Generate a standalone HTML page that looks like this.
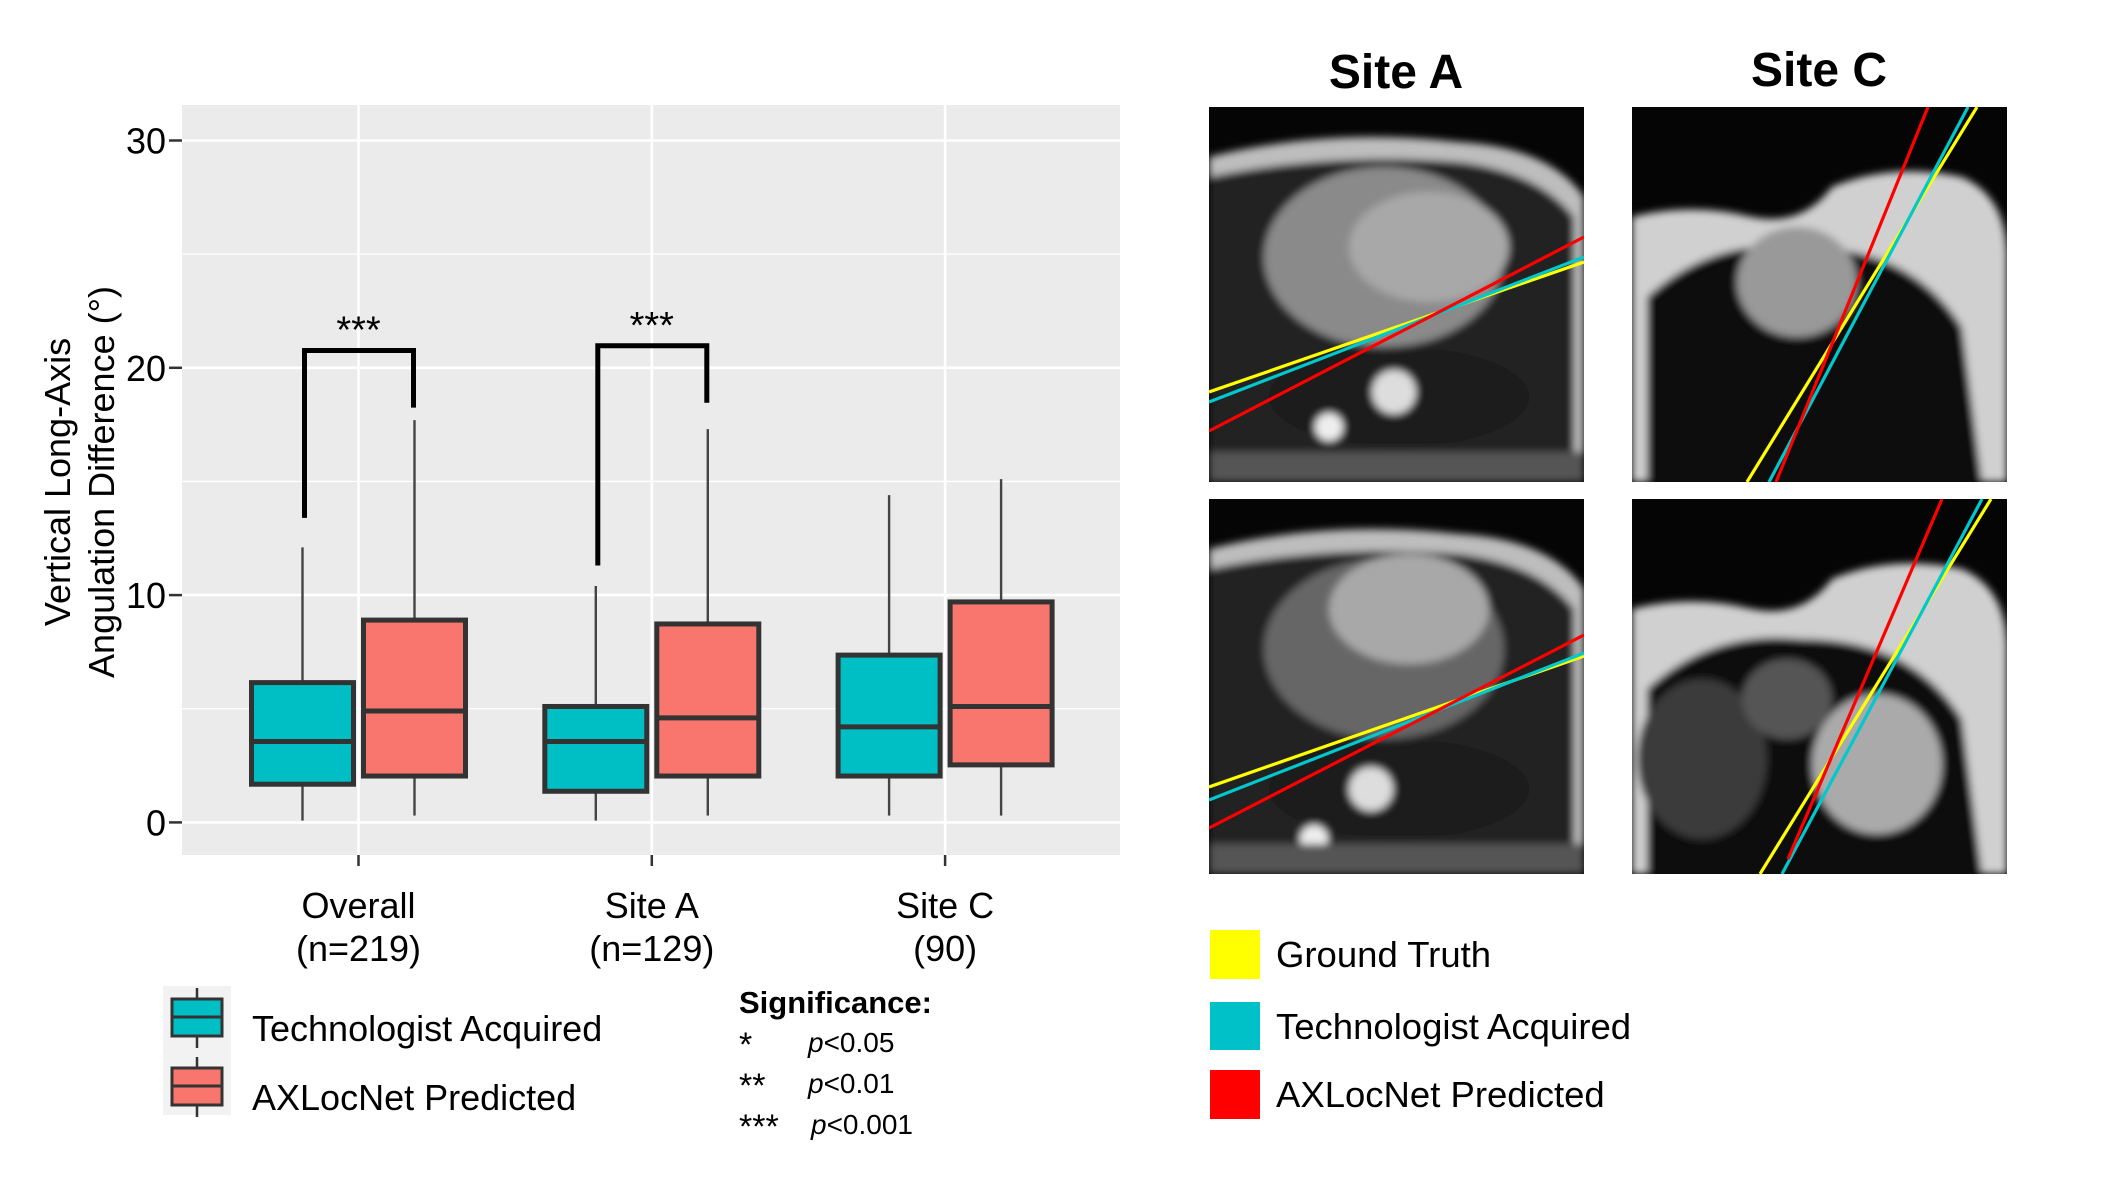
<!DOCTYPE html>
<html><head><meta charset="utf-8">
<style>
html,body{margin:0;padding:0;background:#fff;}
svg{display:block;}
text{font-family:"Liberation Sans",Arial,sans-serif;}
</style></head>
<body>
<svg id="fig" xmlns="http://www.w3.org/2000/svg" width="2103" height="1193" viewBox="0 0 2103 1193">
<defs>
  <filter id="blur4"><feGaussianBlur stdDeviation="4"/></filter>
  <clipPath id="c1"><rect x="0" y="0" width="375" height="375"/></clipPath>
</defs>
<rect x="182" y="105" width="938" height="750" fill="#EBEBEB"/>
<g id="grid"></g>
<g id="marks"></g>
<g id="axes"></g>
<g font-size="36" fill="#000">
  <text transform="translate(70,482) rotate(-90)" text-anchor="middle">Vertical Long-Axis</text>
  <text transform="translate(114,482) rotate(-90)" text-anchor="middle">Angulation Difference (°)</text>
</g>

<g transform="translate(0,-14)">
  <rect x="163" y="1000" width="68" height="129" fill="#F2F2F2"/>
  <g>
    <line x1="197" y1="1002" x2="197" y2="1062" stroke="#333" stroke-width="2.5"/>
    <rect x="172" y="1013" width="50" height="37" fill="#00BFC4" stroke="#333" stroke-width="3"/>
    <line x1="172" y1="1031" x2="222" y2="1031" stroke="#333" stroke-width="3"/>
  </g>
  <g>
    <line x1="197" y1="1071" x2="197" y2="1131" stroke="#333" stroke-width="2.5"/>
    <rect x="172" y="1082" width="50" height="37" fill="#F8766D" stroke="#333" stroke-width="3"/>
    <line x1="172" y1="1100" x2="222" y2="1100" stroke="#333" stroke-width="3"/>
  </g>
  <text x="252" y="1055" font-size="36">Technologist Acquired</text>
  <text x="252" y="1124" font-size="36">AXLocNet Predicted</text>
</g>

<g fill="#000" transform="translate(-10,-16)">
  <text x="749" y="1029" font-size="31" font-weight="bold">Significance:</text>
  <text x="749" y="1072" font-size="34">*</text>
  <text x="818" y="1068" font-size="28"><tspan font-style="italic">p</tspan>&lt;0.05</text>
  <text x="749" y="1113" font-size="34">**</text>
  <text x="818" y="1109" font-size="28"><tspan font-style="italic">p</tspan>&lt;0.01</text>
  <text x="749" y="1154" font-size="34">***</text>
  <text x="821" y="1150" font-size="28"><tspan font-style="italic">p</tspan>&lt;0.001</text>
</g>

<text x="1396" y="88" font-size="48" font-weight="bold" text-anchor="middle">Site A</text>
<text x="1819" y="86" font-size="48" font-weight="bold" text-anchor="middle">Site C</text>
<g id="imgs"></g>

<g>
  <rect x="1210" y="930" width="50" height="49" fill="#FFFF00"/>
  <rect x="1210" y="1002" width="50" height="48" fill="#00C0C8"/>
  <rect x="1210" y="1070" width="50" height="49" fill="#FF0000"/>
  <text x="1276" y="967" font-size="36.5">Ground Truth</text>
  <text x="1276" y="1039" font-size="36.5">Technologist Acquired</text>
  <text x="1276" y="1107" font-size="36.5">AXLocNet Predicted</text>
</g>

<script>
const categories = ["Overall", "Site A", "Site C"];
const catSub = ["(n=219)", "(n=129)", "(90)"];
const techMin = [0.08, 0.08, 0.3];
const techQ1 = [1.68, 1.37, 2.04];
const techMed = [3.56, 3.56, 4.2];
const techQ3 = [6.15, 5.1, 7.36];
const techMax = [12.1, 10.4, 14.4];
const predMin = [0.3, 0.3, 0.3];
const predQ1 = [2.04, 2.04, 2.53];
const predMed = [4.9, 4.6, 5.1];
const predQ3 = [8.9, 8.73, 9.7];
const predMax = [17.7, 17.3, 15.1];
const yTicks = [0, 10, 20, 30];
const bracketCats = [0, 1];
const bracketTop = [20.76, 20.97];
const bracketLeftEnd = [13.4, 11.3];
const bracketRightEnd = [18.25, 18.46];
const bracketLabel = ["***", "***"];

const NS = "http://www.w3.org/2000/svg";
function el(tag, attrs, parent){const e=document.createElementNS(NS,tag);for(const k in attrs)e.setAttribute(k,attrs[k]);parent.appendChild(e);return e;}
const y = v => 822.4 - v * 22.73;
const x = i => 358.5 + i * 293.3;
const dodge = 56, halfW = 51;

const grid = document.getElementById('grid');
[5,15,25].forEach(v=>{const l=el('line',{x1:182,x2:1120,y1:y(v),y2:y(v),stroke:'#fff','stroke-width':1.3},grid);

});
yTicks.forEach(v=>{const l=el('line',{x1:182,x2:1120,y1:y(v),y2:y(v),stroke:'#fff','stroke-width':2.6},grid);

});
categories.forEach((c,i)=>{const l=el('line',{x1:x(i),x2:x(i),y1:105,y2:855,stroke:'#fff','stroke-width':2.6},grid);

});

const axes = document.getElementById('axes');
yTicks.forEach(v=>{
  const t=el('line',{x1:169,x2:182,y1:y(v),y2:y(v),stroke:'#333','stroke-width':2.5},axes);
  
  
  const tx=el('text',{x:166,y:y(v)+13,'font-size':36,'text-anchor':'end',fill:'#000'},axes);
  tx.textContent=v;
  
  
});
categories.forEach((c,i)=>{
  const t=el('line',{x1:x(i),x2:x(i),y1:855,y2:866,stroke:'#333','stroke-width':2.5},axes);
  
  
  const a=el('text',{x:x(i),y:918,'font-size':36,'text-anchor':'middle',fill:'#000'},axes);
  a.textContent=c;
  
  
  const b=el('text',{x:x(i),y:961,'font-size':36,'text-anchor':'middle',fill:'#000'},axes);
  b.textContent=catSub[i];
  
  
});

const marks = document.getElementById('marks');
function box(cx, mn, q1, md, q3, mx, fill, name){
  const g=el('g',{},marks);
  
  
  el('line',{x1:cx,x2:cx,y1:y(mx),y2:y(q3),stroke:'#444','stroke-width':2.4},g);
  el('line',{x1:cx,x2:cx,y1:y(q1),y2:y(mn),stroke:'#444','stroke-width':2.4},g);
  el('rect',{x:cx-halfW,y:y(q3),width:halfW*2,height:y(q1)-y(q3),fill:fill,stroke:'#333','stroke-width':5},g);
  el('line',{x1:cx-halfW,x2:cx+halfW,y1:y(md),y2:y(md),stroke:'#333','stroke-width':5},g);
}
categories.forEach((c,i)=>{
  box(x(i)-dodge, techMin[i], techQ1[i], techMed[i], techQ3[i], techMax[i], '#00BFC4', 'box-technologist-'+i);
  box(x(i)+dodge, predMin[i], predQ1[i], predMed[i], predQ3[i], predMax[i], '#F8766D', 'box-axlocnet-'+i);
});
bracketCats.forEach((ci,k)=>{
  const xl=x(ci)-dodge+2, xr=x(ci)+dodge-1;
  const p=el('polyline',{points:`${xl},${y(bracketLeftEnd[k])} ${xl},${y(bracketTop[k])} ${xr},${y(bracketTop[k])} ${xr},${y(bracketRightEnd[k])}`,fill:'none',stroke:'#000','stroke-width':5},marks);
  
  
  const t=el('text',{x:x(ci),y:y(bracketTop[k])-8,'font-size':38,'text-anchor':'middle',fill:'#000'},marks);
  t.textContent=bracketLabel[k];
  
  
});

const imgs=document.getElementById('imgs');
const panels=[
 {x:1209,y:107,type:'A',lines:[[0,285,375,155,'#FFFF00'],[0,295,375,150,'#00C8CC'],[0,324,375,130,'#FF0000']]},
 {x:1209,y:499,type:'A2',lines:[[0,288,375,157,'#FFFF00'],[0,301,375,154,'#00C8CC'],[0,329,375,136,'#FF0000']]},
 {x:1632,y:107,type:'C',lines:[[115,375,345,0,'#FFFF00'],[137,375,336,0,'#00C8CC'],[144,375,296,0,'#FF0000']]},
 {x:1632,y:499,type:'C2',lines:[[128,375,359,0,'#FFFF00'],[150,375,350,0,'#00C8CC'],[156,360,310,0,'#FF0000']]}
];
panels.forEach((p,i)=>{
  const g=el('g',{transform:`translate(${p.x},${p.y})`,'clip-path':'url(#c1)'},imgs);
  
  
  el('rect',{x:0,y:0,width:375,height:375,fill:'#050505'},g);
  const a=el('g',{filter:'url(#blur4)'},g);
  if(p.type[0]==='A'){
    el('path',{d:'M0,50 Q120,20 250,35 Q340,40 375,90 L375,375 L0,375 Z',fill:'#bdbdbd'},a);
    el('path',{d:'M0,70 Q120,45 250,55 Q330,65 365,110 L365,375 L0,375 Z',fill:'#222'},a);
    el('ellipse',{cx:175,cy:150,rx:120,ry:90,fill:p.type==='A'?'#8a8a8a':'#666'},a);
    el('ellipse',{cx:p.type==='A'?220:200,cy:p.type==='A'?140:110,rx:80,ry:55,fill:'#a8a8a8'},a);
    el('ellipse',{cx:190,cy:290,rx:130,ry:50,fill:'#1a1a1a'},a);
    el('circle',{cx:p.type==='A'?185:162,cy:p.type==='A'?285:290,r:22,fill:'#ddd'},a);
    el('circle',{cx:p.type==='A'?120:105,cy:p.type==='A'?320:340,r:14,fill:'#eee'},a);
    el('rect',{x:0,y:345,width:375,height:30,fill:'#555'},a);
  } else {
    el('path',{d:'M0,180 L0,110 Q60,95 120,110 Q170,120 200,80 Q260,55 330,70 Q375,90 375,150 L375,375 L0,375 Z',fill:'#d0d0d0'},a);
    el('path',{d:'M15,375 L15,190 Q80,130 170,140 Q280,140 330,220 L350,375 Z',fill:'#111'},a);
    if(p.type==='C'){
      el('ellipse',{cx:165,cy:175,rx:60,ry:55,fill:'#999'},a);
    } else {
      el('ellipse',{cx:70,cy:260,rx:65,ry:80,fill:'#3a3a3a'},a);
      el('ellipse',{cx:245,cy:265,rx:65,ry:70,fill:'#aaa'},a);
      el('ellipse',{cx:155,cy:200,rx:45,ry:40,fill:'#555'},a);
    }
  }
  p.lines.forEach(l=>{
    const ln=el('line',{x1:l[0],y1:l[1],x2:l[2],y2:l[3],stroke:l[4],'stroke-width':3.2},g);
    
    
  });
});
</script>
</svg>
</body></html>
